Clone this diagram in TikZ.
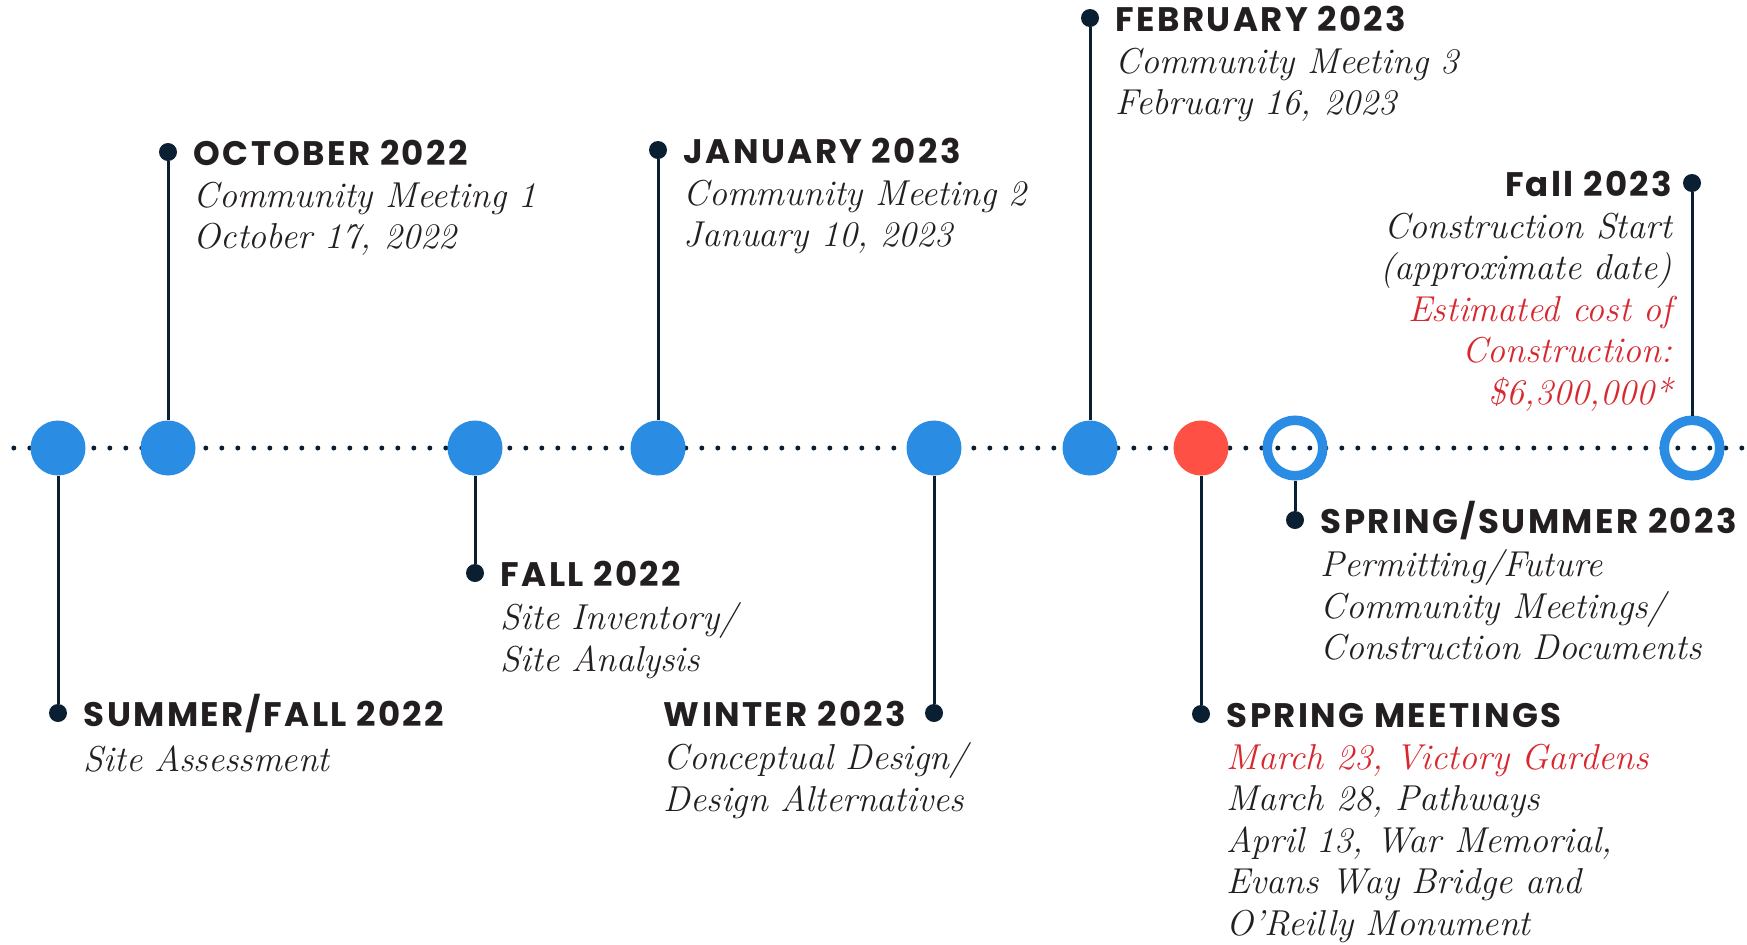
\documentclass[tikz,border=0pt]{standalone}
\usepackage{fontspec}
\usepackage{tikz}
\usetikzlibrary{positioning}
\newfontfamily\headfont{Poppins}[LetterSpace=7]
\definecolor{markblue}{RGB}{43,140,228}
\definecolor{markred}{RGB}{255,80,70}
\definecolor{navy}{RGB}{11,31,51}
\definecolor{ink}{RGB}{35,31,32}
\definecolor{costred}{RGB}{215,40,47}
\def\lineY{448}

\begin{document}
\begin{tikzpicture}[x=0.5pt, y=-0.5pt, node distance=8pt]
    \tikzstyle{stage}=[circle,fill=markblue,minimum size=27.5pt,inner sep=0pt]
    \tikzstyle{now stage}=[stage, fill=markred]
    \tikzstyle{next stage}=[stage, fill=none, draw=markblue, line width=4.75pt, minimum size=27.75pt]
    \tikzstyle{tip}=[circle,fill=navy,minimum size=9pt,inner sep=0pt]
    \tikzstyle{stem}=[draw=navy, line width=1.5pt]
    \tikzstyle{heading}=[font=\headfont\bfseries\fontsize{17}{20}\selectfont, text=ink,
        inner sep=0pt, text height=13pt, text depth=0pt]
    \tikzstyle{info}=[font=\itshape\fontsize{18}{20.75}\selectfont, text=ink,
        inner sep=0pt, align=left, execute at begin node=\strut]

    \useasboundingbox (0,0) rectangle (1747,944);

    % Draw the dotted time line
    \coordinate (start) at (0,\lineY);
    \coordinate (end) at (1747,\lineY);
    \draw[navy, line width=2.5pt, line cap=round, dash pattern=on 0pt off 8pt,
        dash phase=1.1pt] (start) -- (end);

    % Draw the stages on the time line
    \foreach \name / \x in {1/58,2/168,3/475,4/658,5/934,6/1090}
        \node[stage] (S-\name) at (\x,\lineY) {};
    \node[now stage] (S-7) at (1201,\lineY) {};
    \foreach \name / \x in {8/1295,9/1692}
        \node[next stage] (S-\name) at (\x,\lineY) {};

    % Draw the end point of every stem
    \foreach \name / \x / \y in {1/58/713,2/168/152,3/475/573,4/658/150,5/934/713,
                                 6/1090/18,7/1201/714,8/1295/520,9/1692/183}
        \node[tip] (T-\name) at (\x,\y) {};

    % Connect every stage with its end point
    \foreach \name in {1,...,9}
        \path[stem] (S-\name) -- (T-\name);

    % Annotate the stages
    \node[heading, right=of T-1] (H-1) {SUMMER/FALL 2022};
    \node[info, below=8pt of H-1.south west, anchor=north west] (I-1) {Site Assessment};

    \node[heading, right=of T-2] (H-2) {OCTOBER 2022};
    \node[info, below=8pt of H-2.south west, anchor=north west] (I-2)
        {Community Meeting 1\\October 17, 2022};

    \node[heading, right=of T-3] (H-3) {FALL 2022};
    \node[info, below=8pt of H-3.south west, anchor=north west] (I-3)
        {Site Inventory/\\Site Analysis};

    \node[heading, right=of T-4] (H-4) {JANUARY 2023};
    \node[info, below=8pt of H-4.south west, anchor=north west] (I-4)
        {Community Meeting 2\\January 10, 2023};

    \node[heading, left=9pt of T-5] (H-5) {WINTER 2023};
    \node[info, below=8pt of H-5.south west, anchor=north west] (I-5)
        {Conceptual Design/\\Design Alternatives};

    \node[heading, right=of T-6] (H-6) {FEBRUARY 2023};
    \node[info, below=8pt of H-6.south west, anchor=north west] (I-6)
        {Community Meeting 3\\February 16, 2023};

    \node[heading, right=of T-7] (H-7) {SPRING MEETINGS};
    \node[info, below=8pt of H-7.south west, anchor=north west] (I-7)
        {\textcolor{costred}{March 23, Victory Gardens}\\March 28, Pathways\\
         April 13, War Memorial,\\Evans Way Bridge and\\O'Reilly Monument};

    \node[heading, right=of T-8] (H-8) {SPRING/SUMMER 2023};
    \node[info, below=8pt of H-8.south west, anchor=north west] (I-8)
        {Permitting/Future\\Community Meetings/\\Construction Documents};

    \node[heading, left=5pt of T-9] (H-9) {Fall 2023};
    \node[info, align=right, below=8pt of H-9.south east, anchor=north east] (I-9)
        {Construction Start\\(approximate date)\\\textcolor{costred}{Estimated cost of}\\
         \textcolor{costred}{Construction:}\\\textcolor{costred}{\$6,300,000*}};
\end{tikzpicture}
\end{document}
